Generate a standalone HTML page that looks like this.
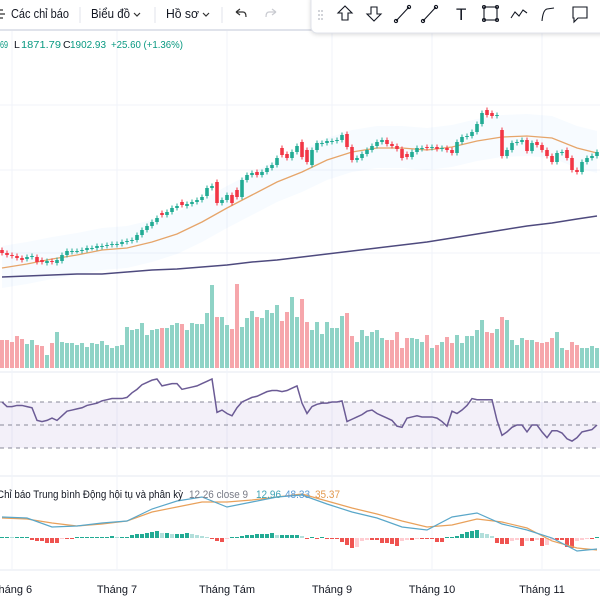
<!DOCTYPE html>
<html><head><meta charset="utf-8">
<style>
body{margin:0;width:600px;height:600px;overflow:hidden;background:#fff;font-family:"Liberation Sans","Noto Sans CJK SC",sans-serif;}
svg{position:absolute;left:0;top:0;}
text{font-family:"Liberation Sans","Noto Sans CJK SC",sans-serif;}
</style></head>
<body>
<svg id="chart" width="600" height="600" viewBox="0 0 600 600">
  <rect x="0" y="0" width="600" height="600" fill="#fff"/>
  <g id="grid" stroke="#f0f3fa" stroke-width="1">
    <line x1="0" y1="105" x2="600" y2="105"/><line x1="0" y1="170" x2="600" y2="170"/><line x1="0" y1="253" x2="600" y2="253"/>
    <line x1="0" y1="372" x2="600" y2="372" stroke="#e6e9f0"/>
    <line x1="0" y1="476" x2="600" y2="476" stroke="#e6e9f0"/>
    <line x1="0" y1="570" x2="600" y2="570" stroke="#e6e9f0"/>
  </g>
  <g id="vgrid"></g>
  <rect x="0" y="402" width="600" height="46" fill="rgba(126,87,194,0.09)"/>
  <g stroke="#8a8a99" stroke-width="1" stroke-dasharray="4,4">
    <line x1="0" y1="402" x2="600" y2="402"/><line x1="0" y1="425" x2="600" y2="425"/><line x1="0" y1="448" x2="600" y2="448"/>
  </g>
  <g id="band"></g>
  <g id="vol"></g>
  <g id="ma"></g>
  <g id="candles"></g>
  <g id="rsi"></g>
  <g id="macd"></g>
  <g id="xaxis"></g>

  <rect x="0" y="0" width="600" height="29" fill="#fff"/>
  <rect x="0" y="29" width="600" height="2" fill="#e0e3eb"/>
  <g>
    <path d="M-2 10 L3 10 M-2 14 L5 14 M-2 18 L3 18" stroke="#333" stroke-width="1.2"/>
    <text x="11" y="18" font-size="12.5" fill="#131722" textLength="58" lengthAdjust="spacingAndGlyphs">Các chỉ báo</text>
  </g>
  <line x1="80" y1="7" x2="80" y2="23" stroke="#e0e3eb"/>
  <g>
    <text x="91" y="18" font-size="12.5" fill="#131722" textLength="39" lengthAdjust="spacingAndGlyphs">Biểu đồ</text>
    <path d="M134 13 L137 16 L140 13" stroke="#333" fill="none" stroke-width="1.2"/>
  </g>
  <line x1="155" y1="7" x2="155" y2="23" stroke="#e0e3eb"/>
  <g>
    <text x="166" y="18" font-size="12.5" fill="#131722" textLength="33" lengthAdjust="spacingAndGlyphs">Hồ sơ</text>
    <path d="M203 13 L206 16 L209 13" stroke="#333" fill="none" stroke-width="1.2"/>
  </g>
  <line x1="222" y1="7" x2="222" y2="23" stroke="#e0e3eb"/>
  <path d="M236 12 L240 9 M236 12 L240 15 M236 12 L243 12 Q246 12 246 17" stroke="#333" fill="none" stroke-width="1.2"/>
  <path d="M276 12 L272 9 M276 12 L272 15 M276 12 L269 12 Q266 12 266 17" stroke="#c9cbd1" fill="none" stroke-width="1.2"/>

  <g>
    <rect x="311" y="-6" width="300" height="39" rx="6" fill="#fff" stroke="#e0e3eb" style="filter:drop-shadow(0 1px 2px rgba(0,0,0,0.15))"/>
    <g fill="#b2b5be"><circle cx="319" cy="11" r="0.9"/><circle cx="322" cy="11" r="0.9"/><circle cx="319" cy="15" r="0.9"/><circle cx="322" cy="15" r="0.9"/><circle cx="319" cy="19" r="0.9"/><circle cx="322" cy="19" r="0.9"/></g>
    <g stroke="#131722" stroke-width="1.1" fill="none">
      <path d="M345 6 L352 13 L348 13 L348 20 L342 20 L342 13 L338 13 Z"/>
      <path d="M374 21 L381 14 L377 14 L377 7 L371 7 L371 14 L367 14 Z"/>
      <g><line x1="396" y1="21" x2="409" y2="7"/><circle cx="396" cy="21" r="1.6"/><circle cx="409" cy="7" r="1.6"/></g>
      <g><line x1="423" y1="21" x2="436" y2="7"/><circle cx="423" cy="21" r="1.6"/><circle cx="436" cy="7" r="1.6"/></g>
      <g><rect x="484" y="7" width="13" height="13"/><circle cx="484" cy="7" r="1.5"/><circle cx="497" cy="7" r="1.5"/><circle cx="484" cy="20" r="1.5"/><circle cx="497" cy="20" r="1.5"/></g>
      <path d="M511 18 L515 12 L519 16 L523 10 L527 13"/>
      <path d="M542 21 Q543 10 547 9 L554 8"/>
      <path d="M573 7 L587 7 L587 18 L578 18 L574 22 L574 18 L573 18 Z"/>
    </g>
    <text x="456" y="20" font-size="17" font-family="Liberation Serif, serif" fill="#131722">T</text>
  </g>

  <g font-size="10.5">
    <text x="0" y="48" fill="#089981" textLength="8" lengthAdjust="spacingAndGlyphs">69</text>
    <text x="14" y="48" fill="#131722">L</text>
    <text x="21" y="48" fill="#089981" textLength="40" lengthAdjust="spacingAndGlyphs">1871.79</text>
    <text x="63" y="48" fill="#131722">C</text>
    <text x="70" y="48" fill="#089981" textLength="36" lengthAdjust="spacingAndGlyphs">1902.93</text>
    <text x="111" y="48" fill="#089981" textLength="72" lengthAdjust="spacingAndGlyphs">+25.60 (+1.36%)</text>
  </g>
  <g font-size="11">
    <text x="-3" y="498" fill="#131722" textLength="186" lengthAdjust="spacingAndGlyphs">Chỉ báo Trung bình Động hội tụ và phân kỳ</text>
    <text x="189" y="498" fill="#787b86" textLength="59" lengthAdjust="spacingAndGlyphs">12 26 close 9</text>
    <text x="256" y="498" fill="#3fa3b5" textLength="25" lengthAdjust="spacingAndGlyphs">12.96</text>
    <text x="285" y="498" fill="#5b9bd5" textLength="25" lengthAdjust="spacingAndGlyphs">48.33</text>
    <text x="315" y="498" fill="#e39a4f" textLength="25" lengthAdjust="spacingAndGlyphs">35.37</text>
  </g>
</svg>
<script>
const closes=[1537,1535,1534,1532,1530,1533,1534,1528,1528,1529,
1528,1530,1535,1539,1539,1539,1540,1542,1542,1544,
1544,1545,1546,1546,1548,1549,1550,1555,1560,1564,
1568,1572,1575,1578,1582,1584,1585,1586,1588,1590,
1593,1602,1604,1587,1590,1595,1587,1593,1610,1615,
1617,1615,1618,1622,1625,1632,1635,1632,1638,1644,
1633,1628,1640,1647,1647,1649,1649,1650,1655,1643,
1630,1632,1636,1640,1644,1648,1650,1646,1644,1641,
1632,1633,1638,1642,1642,1642,1643,1641,1642,1640,
1637,1648,1653,1654,1658,1666,1677,1675,1674,1675,
1634,1640,1647,1648,1650,1639,1647,1645,1640,1634,
1628,1637,1638,1632,1620,1618,1628,1632,1634,1638];
const opens=[1540,1537,1535,1534,1532,1531,1533,1533,1530,1527,
1529,1527,1529,1535,1538,1539,1539,1540,1542,1542,
1543,1544,1545,1545,1546,1548,1549,1550,1555,1560,
1564,1568,1577,1575,1578,1582,1588,1584,1586,1588,
1590,1594,1602,1608,1587,1590,1595,1600,1593,1610,
1615,1618,1615,1618,1622,1625,1642,1636,1632,1638,
1648,1640,1625,1640,1646,1647,1648,1649,1650,1656,
1643,1630,1632,1636,1640,1644,1648,1650,1646,1644,
1641,1636,1633,1638,1641,1643,1642,1643,1641,1642,
1640,1637,1648,1653,1654,1658,1666,1680,1677,1674,
1660,1634,1640,1647,1648,1650,1639,1648,1645,1640,
1634,1628,1637,1640,1632,1620,1618,1628,1632,1634];
const volumes=[28,28,26,32,29,24,28,23,22,13,
25,36,26,25,25,23,25,21,25,24,
27,23,20,22,23,41,38,39,45,33,
38,39,40,40,43,45,44,38,45,44,
44,55,83,51,51,43,39,84,41,50,
57,51,50,58,55,63,47,56,71,51,
69,46,38,46,34,46,40,40,52,55,
32,26,38,32,36,38,30,28,28,36,
20,30,30,29,26,33,20,23,26,31,
25,33,25,32,32,38,48,36,35,39,
51,48,28,23,30,28,28,26,25,26,
30,36,20,18,26,23,20,20,22,20];
const maIdx=[0,5,10,15,20,25,30,35,40,45,50,55,60,65,70,75,80,85,90,95,100,105,110,115,119];
const ma20=[1522,1526,1531,1535,1540,1542,1548,1556,1568,1582,1595,1608,1618,1630,1638,1642,1642,1640,1643,1649,1653,1654,1652,1642,1637];
const ma200=[1513,1514,1515,1516,1516,1518,1520,1521,1523,1525,1528,1530,1533,1536,1539,1542,1545,1548,1552,1556,1560,1564,1567,1571,1574];
const rsiVals=[70,66,66,67,67,66,65,54,53,54,56,54,58,62,63,64,65,67,68,69,
71,72,73,73,73,74,78,81,85,87,89,90,84,85,86,86,81,82,83,84,
86,88,90,61,63,60,58,65,70,72,74,75,77,79,80,80,79,80,82,84,
69,60,66,68,69,69,70,70,71,53,55,57,59,62,63,60,58,56,54,49,
48,56,57,58,57,57,57,56,53,49,62,60,63,67,73,72,72,72,72,54,
41,44,48,50,50,44,50,50,44,39,45,45,43,38,36,39,44,45,46,50];
const macdLine=[21,20,11,12,15,17,29,37,41,31,36,41,43,34,26,20,11,8,21,25,14,8,0,-13,-11];
const signalLine=[20,19,15,12,14,17,26,31,36,36,38,41,44,37,30,24,17,11,13,19,16,10,-3,-10,-12];
const histogram=[1,1,0,0,0,0,-2,-3,-3,-5,-5,-5,-1,-1,-1,0,0,1,1,1,
1,1,2,1,1,1,3,4,4,5,6,7,5,5,4,4,4,5,4,3,
2,1,-1,-3,-4,-1,0,1,2,3,3,4,4,4,5,3,3,3,3,3,
2,-1,0,-1,0,-1,-1,-1,-4,-7,-10,-9,-3,-2,-2,-2,-5,-5,-6,-8,
-3,-2,-2,-1,-1,-1,-1,-4,-4,0,1,2,4,6,7,8,5,4,2,-5,
-6,-6,-3,-2,-8,-3,-3,-2,-8,-7,-2,-2,-2,-9,-10,-3,-2,-1,-1,0];
const monthLabels=["Tháng 6","Tháng 7","Tháng Tám","Tháng 9","Tháng 10","Tháng 11"];
const monthStartIdx=[2,23,45,66,86,108];

const xOf=i=>2+i*5;
const pY=p=>1790-p;
const vY=v=>368-v;
const rY=r=>402+(70-r)*46/40;
const mY=v=>538-v;
const NS="http://www.w3.org/2000/svg";
function mk(tag,attrs,parent){const e=document.createElementNS(NS,tag);for(const k in attrs)e.setAttribute(k,attrs[k]);parent.appendChild(e);return e;}
const G=id=>document.getElementById(id);
const UP="#22ab94",DN="#f23645";

monthStartIdx.forEach((idx,k)=>{
  const x=xOf(idx);
  const l=mk('line',{x1:x,y1:31,x2:x,y2:570,stroke:'#f0f3fa'},G('vgrid'));
  
  
  const t=mk('text',{x:x,y:593,'font-size':11,fill:'#131722','text-anchor':'middle'},G('xaxis'));
  t.textContent=monthLabels[k];
  
  
});

{
  let up='',lo='';
  maIdx.forEach((i,k)=>{up+=(k?'L':'M')+xOf(i)+' '+(pY(ma20[k])-22)+' ';});
  for(let k=maIdx.length-1;k>=0;k--){lo+='L'+xOf(maIdx[k])+' '+(pY(ma20[k])+20)+' ';}
  const b=mk('path',{d:up+lo+'Z',fill:'rgba(33,150,243,0.035)'},G('band'));
  
  
}

volumes.forEach((v,i)=>{
  const up=closes[i]>=opens[i];
  const r=mk('rect',{x:xOf(i)-2,y:vY(v),width:4,height:v,fill:up?'#8fd3c6':'#f6a6ab'},G('vol'));
  
  
});

function line(arr,yf,color,w,parent,name){
  let d='';maIdx.forEach((i,k)=>{d+=(k?'L':'M')+xOf(i)+' '+yf(arr[k])+' ';});
  const p=mk('path',{d:d,fill:'none',stroke:color,'stroke-width':w},parent);
  
  
}
line(ma200,pY,'#4e4a7e',1.5,G('ma'),'ma-long-line');
line(ma20,pY,'#e6a56a',1.3,G('ma'),'ma-short-line');

closes.forEach((c,i)=>{
  const o=opens[i],up=c>=o,col=up?UP:DN,x=xOf(i);
  const top=pY(Math.max(o,c)),bot=pY(Math.min(o,c));
  const g=mk('g',{},G('candles'));
  
  
  mk('line',{x1:x,y1:top-2.5,x2:x,y2:bot+2.5,stroke:col,'stroke-width':1},g);
  mk('rect',{x:x-1.8,y:top,width:3.6,height:Math.max(1,bot-top),fill:col},g);
});

{
  let d='';rsiVals.forEach((r,i)=>{d+=(i?'L':'M')+xOf(i)+' '+rY(r)+' ';});
  const p=mk('path',{d:d,fill:'none',stroke:'#6b5b95','stroke-width':1.5},G('rsi'));
  
  
}

histogram.forEach((h,i)=>{
  const prev=i?histogram[i-1]:0;
  let col;
  if(h>=0) col=h>=prev?'#22ab94':'#b2dfdb'; else col=h<=prev?'#ef5350':'#ffcdd2';
  const hh=Math.max(1,Math.abs(h));
  const r=mk('rect',{x:xOf(i)-2,y:h>=0?mY(h)-(h===0?1:0):mY(0),width:4,height:hh,fill:col},G('macd'));
  
  
});
line(signalLine,mY,'#e9a15b',1.2,G('macd'),'macd-signal-line');
line(macdLine,mY,'#5aa7c9',1.2,G('macd'),'macd-line');
</script>
</body></html>
